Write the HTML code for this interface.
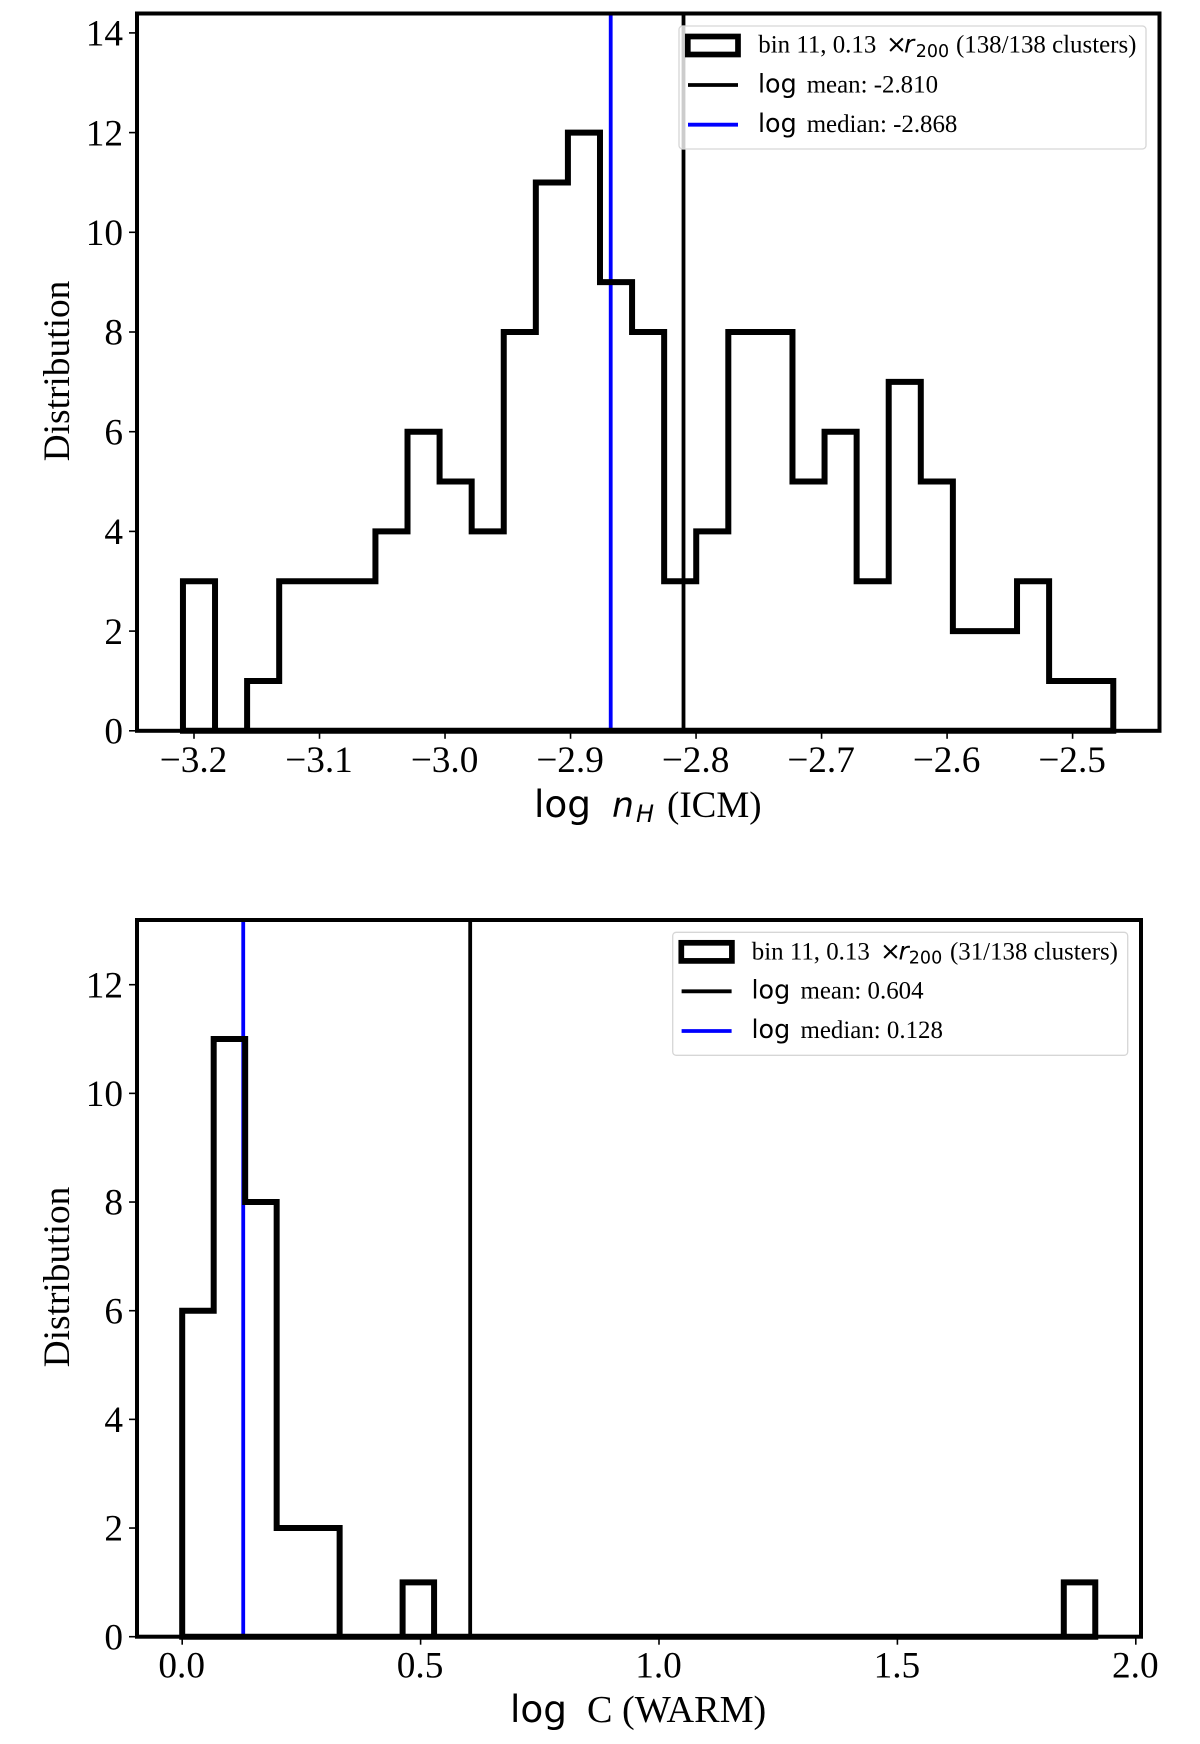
<!DOCTYPE html>
<html lang="en">
<head>
<meta charset="utf-8">
<title>Distribution histograms</title>
<style>
html,body{margin:0;padding:0;background:#fff;width:1200px;height:1744px;overflow:hidden}
svg{display:block;filter:blur(0.35px)}
.serif{font-family:"Liberation Serif",serif;fill:#000}
.sans{font-family:"DejaVu Sans",sans-serif;fill:#000}
.leg{font-size:24.9px}
</style>
</head>
<body>
<svg id="figure" xmlns="http://www.w3.org/2000/svg" width="1200" height="1744" viewBox="0 0 1200 1744">
  <rect width="1200" height="1744" fill="#fff"/>
  <g id="nh-plot"></g>
  <g id="c-plot"></g>

  <text class="serif" font-size="37.4" text-anchor="middle" transform="translate(69,371) rotate(-90)">Distribution</text>
  <g>
    <text class="sans" x="534" y="817" font-size="37.4">log</text>
    <text class="sans" x="612" y="817" font-size="34.6" font-style="italic">n</text>
    <text class="sans" x="636" y="822" font-size="24" font-style="italic">H</text>
    <text class="serif" x="667" y="817" font-size="37">(ICM)</text>
  </g>

  <g>
    <rect x="679" y="26" width="467" height="123" rx="3.5" fill="#fff" fill-opacity="0.8" stroke="#d6d6d6" stroke-width="1.3"/>
    <rect x="687.8" y="36.5" width="50.2" height="18" fill="none" stroke="#000" stroke-width="5.7"/>
    <line x1="688" x2="738" y1="85" y2="85" stroke="#000" stroke-width="3.8"/>
    <line x1="688" x2="738" y1="124.7" y2="124.7" stroke="#0000ff" stroke-width="3.8"/>
    <g>
      <text class="serif leg" x="758.3" y="52.7">bin 11, 0.13</text>
      <text class="sans" x="886" y="52.7" font-size="25">×</text>
      <text class="sans" x="904" y="52.7" font-size="25" font-style="italic">r</text>
      <text class="sans" x="915.7" y="57" font-size="17.5">200</text>
      <text class="serif leg" x="956" y="52.7">(138/138 clusters)</text>
    </g>
    <g>
      <text class="sans" x="758" y="92.5" font-size="25.4">log</text>
      <text class="serif leg" x="806.7" y="92.5">mean: -2.810</text>
    </g>
    <g>
      <text class="sans" x="758" y="132" font-size="25.4">log</text>
      <text class="serif leg" x="806.7" y="132">median: -2.868</text>
    </g>
  </g>

  <text class="serif" font-size="37.4" text-anchor="middle" transform="translate(69,1277) rotate(-90)">Distribution</text>
  <g>
    <text class="sans" x="510" y="1722" font-size="37.4">log</text>
    <text class="serif" x="587" y="1722" font-size="38.2">C (WARM)</text>
  </g>

  <g>
    <rect x="672.7" y="932.3" width="455" height="123" rx="3.5" fill="#fff" fill-opacity="0.8" stroke="#d6d6d6" stroke-width="1.3"/>
    <rect x="681.3" y="942.8" width="50.6" height="18.1" fill="none" stroke="#000" stroke-width="5.7"/>
    <line x1="681.6" x2="731.6" y1="991.3" y2="991.3" stroke="#000" stroke-width="3.8"/>
    <line x1="681.6" x2="731.6" y1="1031" y2="1031" stroke="#0000ff" stroke-width="3.8"/>
    <g>
      <text class="serif leg" x="751.8" y="959.3">bin 11, 0.13</text>
      <text class="sans" x="880" y="959.3" font-size="25">×</text>
      <text class="sans" x="898.5" y="959.3" font-size="25" font-style="italic">r</text>
      <text class="sans" x="908.8" y="963.6" font-size="17.5">200</text>
      <text class="serif leg" x="950" y="959.3">(31/138 clusters)</text>
    </g>
    <g>
      <text class="sans" x="751.5" y="998.7" font-size="25.4">log</text>
      <text class="serif leg" x="800.5" y="998.7">mean: 0.604</text>
    </g>
    <g>
      <text class="sans" x="751.5" y="1038" font-size="25.4">log</text>
      <text class="serif leg" x="800.5" y="1038">median: 0.128</text>
    </g>
  </g>
</svg>

<script>
// Top panel data
const nhCounts = [3,0,1,3,3,3,4,6,5,4,8,11,12,9,8,3,4,8,8,5,6,3,7,5,2,2,3,1,1];
const nhBinRange = [-3.2088, -2.4676];
const nhMean = [-2.810];
const nhMedian = [-2.868];
const nhXTicks = [-3.2,-3.1,-3.0,-2.9,-2.8,-2.7,-2.6,-2.5];
const nhXTickLabels = ['\u22123.2','\u22123.1','\u22123.0','\u22122.9','\u22122.8','\u22122.7','\u22122.6','\u22122.5'];
const nhYTicks = [0,2,4,6,8,10,12,14];
const nhYTickLabels = ['0','2','4','6','8','10','12','14'];

// Bottom panel data
const cCounts = [6,11,8,2,2,0,0,1,0,0,0,0,0,0,0,0,0,0,0,0,0,0,0,0,0,0,0,0,1];
const cBinRange = [0, 1.915];
const cMean = [0.604];
const cMedian = [0.128];
const cXTicks = [0,0.5,1,1.5,2];
const cXTickLabels = ['0.0','0.5','1.0','1.5','2.0'];
const cYTicks = [0,2,4,6,8,10,12];
const cYTickLabels = ['0','2','4','6','8','10','12'];

const NS = 'http://www.w3.org/2000/svg';

function linearScale(d0, d1, r0, r1) {
  return function (v) { return r0 + (v - d0) * (r1 - r0) / (d1 - d0); };
}

function make(tag, parent, attrs) {
  const el = document.createElementNS(NS, tag);
  for (const k in attrs) el.setAttribute(k, attrs[k]);
  parent.appendChild(el);
  return el;
}

function drawPanel(opts) {
  const g = document.getElementById(opts.id);
  const x = opts.x, y = opts.y, box = opts.box;
  const y0 = y(0);

  // reference lines
  const meanLine = make('line', g, {x1: x(opts.mean[0]), x2: x(opts.mean[0]), y1: box.top, y2: box.bottom, stroke: '#000', 'stroke-width': 3.8});
  
  
  const medianLine = make('line', g, {x1: x(opts.median[0]), x2: x(opts.median[0]), y1: box.top, y2: box.bottom, stroke: '#0000ff', 'stroke-width': 3.8});
  
  

  // step histogram outline
  const w = (opts.range[1] - opts.range[0]) / opts.counts.length;
  let d = 'M' + x(opts.range[0]).toFixed(2) + ' ' + y0.toFixed(2);
  opts.counts.forEach(function (c, i) {
    const top = y(c).toFixed(2);
    d += 'L' + x(opts.range[0] + i * w).toFixed(2) + ' ' + top;
    d += 'L' + x(opts.range[0] + (i + 1) * w).toFixed(2) + ' ' + top;
  });
  d += 'L' + x(opts.range[1]).toFixed(2) + ' ' + y0.toFixed(2) + 'Z';
  const hist = make('path', g, {d: d, fill: 'none', stroke: '#000', 'stroke-width': 6, 'stroke-linejoin': 'miter'});
  
  

  // axes frame
  const frame = make('rect', g, {x: box.left, y: box.top, width: box.right - box.left, height: box.bottom - box.top, fill: 'none', stroke: '#000', 'stroke-width': 4});
  
  

  // x ticks
  opts.xTicks.forEach(function (t, i) {
    const tick = make('line', g, {x1: x(t), x2: x(t), y1: box.bottom, y2: box.bottom + 8, stroke: '#000', 'stroke-width': 1.6});
    
    
    const label = make('text', g, {x: x(t) - 0.5, y: box.bottom + 41, 'text-anchor': 'middle', class: 'serif', 'font-size': 37.3});
    label.textContent = opts.xLabels[i];
    
    
  });

  // y ticks
  opts.yTicks.forEach(function (t, i) {
    const tick = make('line', g, {x1: box.left - 8, x2: box.left, y1: y(t), y2: y(t), stroke: '#000', 'stroke-width': 1.6});
    
    
    const label = make('text', g, {x: 123, y: y(t) + 12.7, 'text-anchor': 'end', class: 'serif', 'font-size': 37.3});
    label.textContent = opts.yLabels[i];
    
    
  });
}

drawPanel({
  id: 'nh-plot',
  box: {left: 137, right: 1159.5, top: 13.5, bottom: 730.8},
  x: linearScale(-3.2, -2.5, 194, 1072.6),
  y: linearScale(0, 14, 730.8, 32.9),
  counts: nhCounts, range: nhBinRange, mean: nhMean, median: nhMedian,
  xTicks: nhXTicks, xLabels: nhXTickLabels, yTicks: nhYTicks, yLabels: nhYTickLabels
});

drawPanel({
  id: 'c-plot',
  box: {left: 137, right: 1141, top: 920, bottom: 1636.7},
  x: linearScale(0, 2, 182.2, 1135.8),
  y: linearScale(0, 12, 1636.7, 984.7),
  counts: cCounts, range: cBinRange, mean: cMean, median: cMedian,
  xTicks: cXTicks, xLabels: cXTickLabels, yTicks: cYTicks, yLabels: cYTickLabels
});
</script>
</body>
</html>
